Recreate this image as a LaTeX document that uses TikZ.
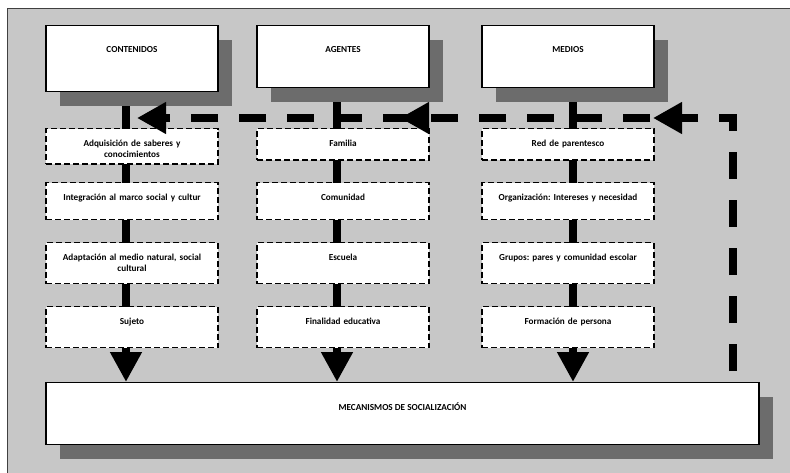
\documentclass[tikz,border=0pt]{standalone}
\usepackage{fontspec}
\setmainfont{Carlito}
\usetikzlibrary{arrows.meta,shadows,decorations.markings}
\pgfdeclarelayer{back}
\pgfdeclarelayer{wires}
\pgfsetlayers{back,wires,main}
\definecolor{panelgray}{RGB}{199,199,199}
\definecolor{shadegray}{RGB}{108,108,108}
\frenchspacing

\begin{document}
\begin{tikzpicture}[x=1pt,y=-1pt,
   font=\fontsize{9.2}{11}\selectfont\bfseries,
   boxshadow/.style={drop shadow={shadow xshift=14pt,shadow yshift=-14pt,fill=shadegray,opacity=1}},
   headbox/.style={draw,line width=1.3pt,fill=white,boxshadow,minimum width=172pt,
      inner sep=0pt,text height=27pt,text depth=#1},
   itembox/.style={draw,line width=1.3pt,dash pattern=on 6pt off 3pt,fill=white,
      minimum width=172pt,inner sep=0pt,text width=166pt,align=center,
      text height=17.5pt,text depth=#1},
   spine/.style={line width=7.5pt,-{Triangle[length=30pt,width=30pt]}},
   feedback/.style={line width=7.5pt,dash pattern=on 27pt off 21pt,dash phase=37pt,
      -{Triangle[length=29pt,width=30pt]},
      decoration={markings,
         mark=at position 344pt with {\arrow{Triangle[length=29pt,width=30pt]}},
         mark=at position 597pt with {\arrow{Triangle[length=29pt,width=30pt]}}},
      postaction={decorate}}]
   \useasboundingbox (0,0) rectangle (790,473);
   \begin{pgfonlayer}{back}
      \fill[panelgray] (7,9) rectangle (790,473);
      \draw[line width=1pt,black!75] (7,473) -- (7,9) -- (790,9);
   \end{pgfonlayer}

   % top headers
   \node (cont) [headbox=39pt,anchor=north] at (132,25) {CONTENIDOS};
   \node (agen) [headbox=35pt,anchor=north] at (343,25) {AGENTES};
   \node (medi) [headbox=35pt,anchor=north] at (568,25) {MEDIOS};

   % contenidos
   \node (cont1) [itembox=18pt,anchor=north]   at (132,128) {Adquisición de saberes y\\conocimientos};
   \node (cont2) [itembox=19.5pt,anchor=north] at (132,182) {Integración al marco social y cultur};
   \node (cont3) [itembox=23.5pt,anchor=north] at (132,242) {Adaptación al medio natural, social\\cultural};
   \node (cont4) [itembox=23.5pt,anchor=north] at (132,306) {Sujeto};

   % agentes
   \node (agen1) [itembox=14pt,anchor=north]   at (343,128) {Familia};
   \node (agen2) [itembox=19.5pt,anchor=north] at (343,182) {Comunidad};
   \node (agen3) [itembox=23.5pt,anchor=north] at (343,242) {Escuela};
   \node (agen4) [itembox=23.5pt,anchor=north] at (343,306) {Finalidad educativa};

   % medios
   \node (medi1) [itembox=14pt,anchor=north]   at (568,128) {Red de parentesco};
   \node (medi2) [itembox=19.5pt,anchor=north] at (568,182) {Organización: Intereses y necesidad};
   \node (medi3) [itembox=23.5pt,anchor=north] at (568,242) {Grupos: pares y comunidad escolar};
   \node (medi4) [itembox=23.5pt,anchor=north] at (568,306) {Formación de persona};

   \node (meca) [headbox=34pt,minimum width=713pt,text height=28pt,anchor=north] at (402.5,382) {MECANISMOS DE SOCIALIZACIÓN};

   \coordinate (line1) at (126,0);
   \coordinate (line2) at (337,0);
   \coordinate (line3) at (573,0);
   \begin{pgfonlayer}{wires}
      \draw[spine] (line1 |- cont.south) -- (line1 |- meca.north);
      \draw[spine] (line2 |- agen.south) -- (line2 |- meca.north);
      \draw[spine] (line3 |- medi.south) -- (line3 |- meca.north);
   \end{pgfonlayer}

   % return path
   \coordinate (turn) at (733,118);
   \coordinate (back) at (137,118);
   \draw[feedback] (turn |- meca.north) -- (turn) -- (back);
\end{tikzpicture}
\end{document}
